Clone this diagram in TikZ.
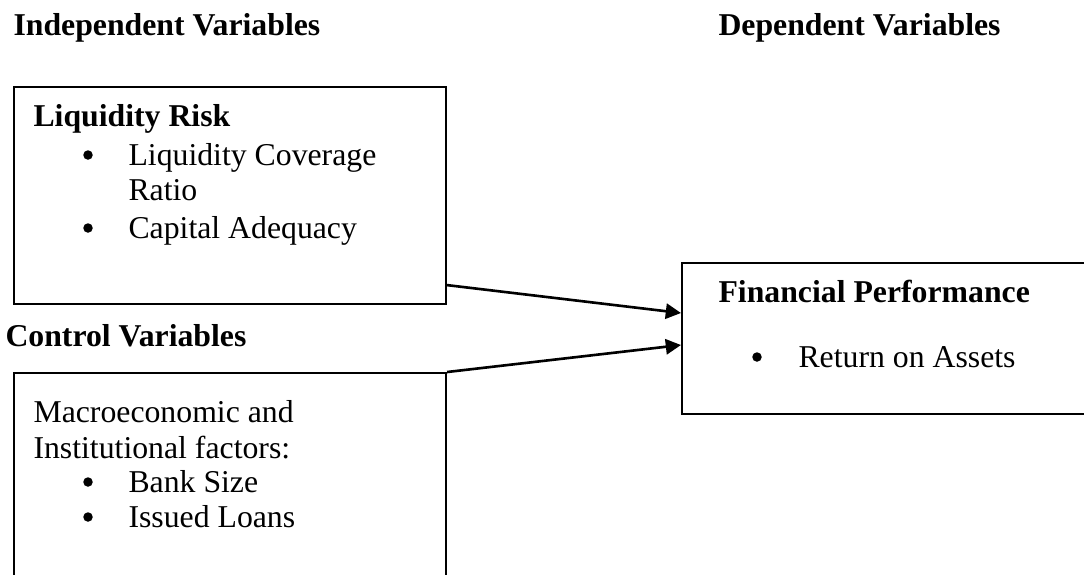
\documentclass[tikz,border=0pt]{standalone}
\usepackage{fontspec}
\setmainfont{Liberation Serif}
\usetikzlibrary{arrows.meta,positioning}
\newcommand{\pxl}{0.381pt}

\begin{document}
\begin{tikzpicture}[
  x=\pxl, y=-\pxl,
  font=\fontsize{12.1}{14}\selectfont,
  box/.style={rectangle, draw=black, line width=0.8pt, anchor=north west, inner sep=0pt},
  hd/.style={anchor=base west, inner sep=0pt, font=\fontsize{12.1}{14}\selectfont\bfseries},
  txt/.style={anchor=base west, inner sep=0pt},
  dot/.style={circle, fill=black, inner sep=0pt, minimum size=9.5*\pxl},
  arr/.style={-{Triangle[length=5.8pt, width=5.8pt]}, line width=1pt}
]
\useasboundingbox (0,0) rectangle (1084,574);
\clip (0,0) rectangle (1084,574);

% headings
\node[hd] (indep) at (13,35) {Independent Variables};
\node[hd] (dep) at (718,35) {Dependent Variables};
\node[hd] (ctrlhd) at (5,346) {Control Variables};

% boxes
\node[box, minimum width=432*\pxl, minimum height=217*\pxl] (risk) at (13,86) {};
\node[box, minimum width=432*\pxl, minimum height=240*\pxl] (ctrl) at (13,372) {};
\node[box, minimum width=430*\pxl, minimum height=151*\pxl] (perf) at (681,262) {};

% liquidity risk
\node[hd] (risktitle) at (33,126) {Liquidity Risk};
\node[dot] (b1) at (88,155) {};
\node[txt] (lcr) at (128,165) {Liquidity Coverage};
\node[txt] (ratio) at (128,200) {Ratio};
\node[dot] (b2) at (88,228) {};
\node[txt] (cap) at (128,238) {Capital Adequacy};

% control variables
\node[txt] (macro) at (33,422) {Macroeconomic and};
\node[txt] (inst) at (33,458) {Institutional factors:};
\node[dot] (b3) at (88,482) {};
\node[txt] (size) at (128,492) {Bank Size};
\node[dot] (b4) at (88,517) {};
\node[txt] (loans) at (128,527) {Issued Loans};

% financial performance
\node[hd] (perftitle) at (718,302) {Financial Performance};
\node[dot] (b5) at (757,357) {};
\node[txt] (roa) at (798,367) {Return on Assets};

% arrows
\draw[arr] ([yshift=20*\pxl]risk.south east) -- ([yshift=-51*\pxl]perf.north west);
\draw[arr] (ctrl.north east) -- ([yshift=-83*\pxl]perf.north west);
\end{tikzpicture}
\end{document}
